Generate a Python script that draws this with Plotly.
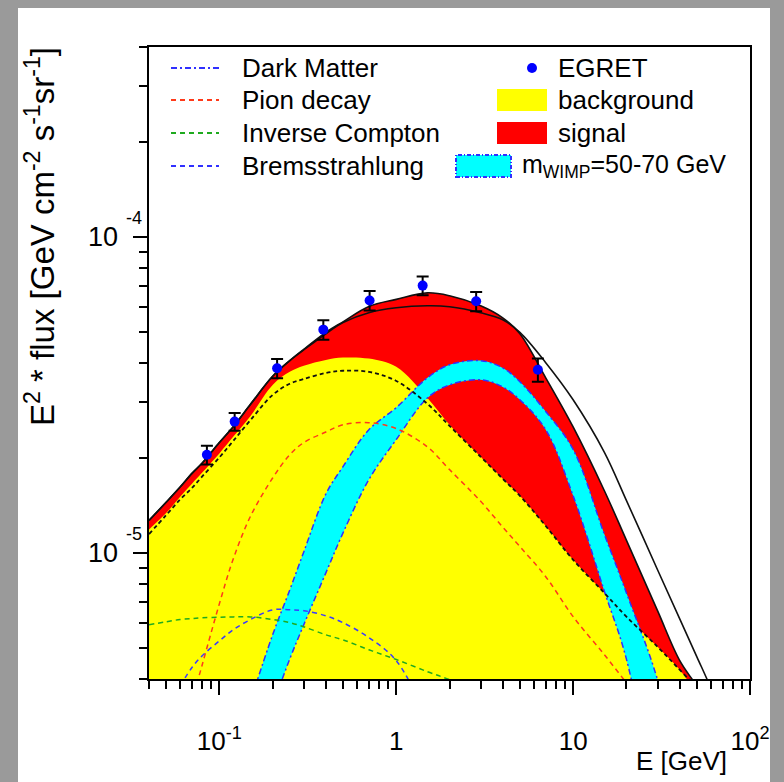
import math
import plotly.graph_objects as go

# ---------------------------------------------------------------- data
# energy grid (GeV) on which the model curves are tabulated
E_GRID = [0.04, 0.05, 0.06, 0.07, 0.08, 0.1, 0.12, 0.15, 0.2, 0.25, 0.3, 0.4, 0.5, 0.7,
          1, 1.5, 2, 3, 4, 5, 7, 10, 15, 20, 30, 40, 50, 60, 70]

# background + signal (upper edge of the red area)
TOTAL_A = [1.27e-5, 1.45e-5, 1.62e-5, 1.79e-5, 1.93e-5, 2.24e-5, 2.52e-5, 2.96e-5, 3.63e-5,
           4.07e-5, 4.42e-5, 5.00e-5, 5.40e-5, 6.04e-5, 6.36e-5, 6.67e-5, 6.53e-5, 6.07e-5,
           5.56e-5, 4.95e-5, 3.59e-5, 2.51e-5, 1.58e-5, 1.10e-5, 6.58e-6, 4.58e-6, 3.8e-6,
           3.2e-6, 2.7e-6]
# background + signal for the heavier WIMP
TOTAL_B = [1.27e-5, 1.45e-5, 1.62e-5, 1.79e-5, 1.93e-5, 2.24e-5, 2.52e-5, 2.96e-5, 3.63e-5,
           4.07e-5, 4.40e-5, 4.95e-5, 5.37e-5, 5.77e-5, 5.98e-5, 6.07e-5, 6.03e-5, 5.77e-5,
           5.48e-5, 5.00e-5, 4.01e-5, 3.06e-5, 2.09e-5, 1.47e-5, 8.87e-6, 6.21e-6, 4.71e-6,
           3.75e-6, 3.0e-6]
# background (upper edge of the yellow area)
BACKGROUND = [1.19e-5, 1.34e-5, 1.51e-5, 1.66e-5, 1.80e-5, 2.07e-5, 2.34e-5, 2.72e-5, 3.41e-5,
              3.75e-5, 3.92e-5, 4.09e-5, 4.16e-5, 4.13e-5, 3.89e-5, 3.10e-5, 2.55e-5, 2.02e-5,
              1.72e-5, 1.52e-5, 1.22e-5, 9.53e-6, 7.49e-6, 6.30e-6, 5.06e-6, 4.28e-6, 3.6e-6,
              3.1e-6, 2.7e-6]
# sum of the conventional components (black dashed)
BG_SUM = [1.15e-5, 1.32e-5, 1.48e-5, 1.61e-5, 1.75e-5, 2.01e-5, 2.27e-5, 2.64e-5, 3.17e-5,
          3.44e-5, 3.56e-5, 3.72e-5, 3.78e-5, 3.75e-5, 3.51e-5, 2.97e-5, 2.53e-5, 2.02e-5,
          1.72e-5, 1.52e-5, 1.22e-5, 9.53e-6, 7.49e-6, 6.30e-6, 5.06e-6, 4.28e-6, 3.75e-6,
          3.3e-6, 2.9e-6]
PION = [None, None, None, 3.4e-6, 4.44e-6, 6.92e-6, 9.62e-6, 1.31e-5, 1.73e-5, 2.05e-5,
        2.24e-5, 2.42e-5, 2.55e-5, 2.59e-5, 2.48e-5, 2.17e-5, 1.84e-5, 1.46e-5, 1.21e-5,
        1.05e-5, 8.43e-6, 6.30e-6, 4.78e-6, 3.89e-6, None, None, None, None, None]
INV_COMPTON = [5.94e-6, 6.07e-6, 6.17e-6, 6.21e-6, 6.25e-6, 6.27e-6, 6.29e-6, 6.29e-6, 6.17e-6,
               6.03e-6, 5.85e-6, 5.52e-6, 5.32e-6, 4.95e-6, 4.61e-6, 4.22e-6, 3.98e-6, 3.6e-6,
               None, None, None, None, None, None, None, None, None, None, None]
BREMS = [None, None, 3.8e-6, 4.35e-6, 4.74e-6, 5.28e-6, 5.73e-6, 6.17e-6, 6.62e-6, 6.62e-6,
         6.58e-6, 6.34e-6, 6.03e-6, 5.41e-6, 4.57e-6, 3.0e-6, None, None, None, None, None,
         None, None, None, None, None, None, None, None]
# dark matter band, m_WIMP = 50-70 GeV (upper and lower edge)
DM_UPPER = [None, None, None, None, None, None, None, 3.4e-6, 5.52e-6, 7.65e-6, 1.01e-5,
            1.54e-5, 1.88e-5, 2.46e-5, 2.89e-5, 3.59e-5, 3.95e-5, 4.07e-5, 3.86e-5, 3.49e-5,
            2.81e-5, 2.13e-5, 1.15e-5, 7.5e-6, 3.98e-6, 2.0e-6, None, None, None]
DM_LOWER = [None, None, None, None, None, None, None, None, 3.3e-6, 4.63e-6, 5.94e-6,
            8.67e-6, 1.16e-5, 1.71e-5, 2.29e-5, 3.10e-5, 3.41e-5, 3.54e-5, 3.36e-5, 3.06e-5,
            2.46e-5, 1.52e-5, 7.6e-6, 4.63e-6, 1.5e-6, None, None, None, None]

# EGRET measurements
EGRET_E = [0.085, 0.122, 0.212, 0.387, 0.707, 1.41, 2.83, 6.32]
EGRET_FLUX = [2.05e-5, 2.61e-5, 3.85e-5, 5.10e-5, 6.31e-5, 7.03e-5, 6.27e-5, 3.81e-5]
EGRET_ERR = [1.4e-6, 1.7e-6, 2.7e-6, 3.6e-6, 4.5e-6, 4.8e-6, 4.4e-6, 3.2e-6]

X_TICKS = [0.1, 1, 10, 100]
X_TICK_TEXT = ["10<sup>-1</sup>", "1", "10", "10<sup>2</sup>"]
Y_TICKS = [1e-5, 1e-4]
Y_TICK_EXP = ["-5", "-4"]
X_RANGE = (0.04, 100)
Y_RANGE = (4e-6, 4e-4)
FLOOR = 1e-7  # well below the visible range, closes the filled areas

# ---------------------------------------------------------------- geometry
W, H = 784, 782
ML, MR, MT, MB = 149, 34, 47, 103
PW, PH = W - ML - MR, H - MT - MB
FONT = "Liberation Sans, Arial, Helvetica, sans-serif"
SMOOTH = 1.0


def px(x):
    return (x - ML) / PW


def py(y):
    return (H - MB - y) / PH


def valid(ys):
    pts = [(x, y) for x, y in zip(E_GRID, ys) if y is not None]
    return [p[0] for p in pts], [p[1] for p in pts]


fig = go.Figure()


def floor_trace(xs):
    fig.add_trace(go.Scatter(x=[xs[0], xs[-1]], y=[FLOOR, FLOOR], mode="lines",
                             line=dict(width=0), hoverinfo="skip"))


def area(ys, color):
    xs, vs = valid(ys)
    floor_trace(xs)
    fig.add_trace(go.Scatter(x=xs, y=vs, mode="lines", fill="tonexty", fillcolor=color,
                             line=dict(width=0, shape="spline", smoothing=SMOOTH),
                             hoverinfo="skip"))


def curve(ys, color, width=1.5, dash="solid"):
    xs, vs = valid(ys)
    fig.add_trace(go.Scatter(x=xs, y=vs, mode="lines",
                             line=dict(color=color, width=width, dash=dash,
                                       shape="spline", smoothing=SMOOTH),
                             hoverinfo="skip"))


# signal (red) under background (yellow)
area(TOTAL_A, "#ff0000")
area(BACKGROUND, "#ffff00")

# dark matter band
ux, uy = valid(DM_UPPER)
lx, ly = valid(DM_LOWER)
fig.add_trace(go.Scatter(x=ux, y=uy, mode="lines",
                         line=dict(width=0, shape="spline", smoothing=SMOOTH),
                         hoverinfo="skip"))
fig.add_trace(go.Scatter(x=lx, y=ly, mode="lines", fill="tonexty", fillcolor="#00ffff",
                         line=dict(width=0, shape="spline", smoothing=SMOOTH),
                         hoverinfo="skip"))
DM_DASH = "6px,3px,2px,3px"
curve(DM_UPPER, "#3030ff", 1.5, DM_DASH)
curve(DM_LOWER, "#3030ff", 1.5, DM_DASH)

# components
SHORT_DASH = "5px,4px"
curve(PION, "#ff3a1a", 1.5, SHORT_DASH)
curve(INV_COMPTON, "#1faa1f", 1.5, SHORT_DASH)
curve(BREMS, "#3a3aff", 1.5, SHORT_DASH)
curve(BG_SUM, "#111111", 1.8, "4px,3px")
curve(TOTAL_B, "#111111", 1.6)
curve(TOTAL_A, "#111111", 1.6)

# EGRET points
fig.add_trace(go.Scatter(x=EGRET_E, y=EGRET_FLUX, mode="markers",
                         marker=dict(color="#0000ff", size=10, line=dict(width=0)),
                         error_y=dict(type="data", array=EGRET_ERR, color="black",
                                      thickness=2, width=6),
                         hoverinfo="skip"))

# ---------------------------------------------------------------- frame
shapes = [dict(type="rect", xref="paper", yref="paper", x0=px(18), x1=px(770),
               y0=py(H + 5), y1=py(8), fillcolor="white", line=dict(width=0),
               layer="below")]
annotations = []

# legend, left column: line samples
LEFT_ROWS = [("Dark Matter", "#3030ff", DM_DASH), ("Pion decay", "#ff3a1a", SHORT_DASH),
             ("Inverse Compton", "#1faa1f", SHORT_DASH),
             ("Bremsstrahlung", "#3030ff", SHORT_DASH)]
ROW_Y = [68, 100, 133, 166]
for (label, color, dash), ry in zip(LEFT_ROWS, ROW_Y):
    shapes.append(dict(type="line", xref="paper", yref="paper", x0=px(171), x1=px(219),
                       y0=py(ry), y1=py(ry), line=dict(color=color, width=2, dash=dash)))
    annotations.append(dict(text=label, xref="paper", yref="paper", x=px(240), y=py(ry),
                            xanchor="left", yanchor="middle", showarrow=False,
                            font=dict(size=26, family=FONT, color="black")))

# legend, right column
shapes.append(dict(type="circle", xref="paper", yref="paper", x0=px(527), x1=px(537),
                   y0=py(ROW_Y[0] + 5), y1=py(ROW_Y[0] - 5), fillcolor="#0000ff",
                   line=dict(width=0)))
shapes.append(dict(type="rect", xref="paper", yref="paper", x0=px(497), x1=px(547),
                   y0=py(ROW_Y[1] + 11), y1=py(ROW_Y[1] - 11), fillcolor="#ffff00",
                   line=dict(width=0)))
shapes.append(dict(type="rect", xref="paper", yref="paper", x0=px(497), x1=px(547),
                   y0=py(ROW_Y[2] + 11), y1=py(ROW_Y[2] - 11), fillcolor="#ff0000",
                   line=dict(width=0)))
shapes.append(dict(type="rect", xref="paper", yref="paper", x0=px(456), x1=px(511),
                   y0=py(ROW_Y[3] + 11), y1=py(ROW_Y[3] - 11), fillcolor="#00ffff",
                   line=dict(color="#3030ff", width=2, dash="4px,2px,1px,2px")))
RIGHT_ROWS = [("EGRET", 556, ROW_Y[0], 26), ("background", 556, ROW_Y[1], 26),
              ("signal", 556, ROW_Y[2], 26), ("m<sub>WIMP</sub>=50-70 GeV", 520, ROW_Y[3], 25)]
for label, x0, ry, fs in RIGHT_ROWS:
    annotations.append(dict(text=label, xref="paper", yref="paper", x=px(x0), y=py(ry),
                            xanchor="left", yanchor="middle", showarrow=False,
                            font=dict(size=fs, family=FONT, color="black")))

# y tick labels: mantissa centred on the tick, exponent raised above it
for val, exp in zip(Y_TICKS, Y_TICK_EXP):
    annotations.append(dict(text="10", xref="paper", yref="y", x=px(120),
                            y=math.log10(val), xanchor="right", yanchor="middle",
                            showarrow=False, font=dict(size=27, family=FONT, color="black")))
    annotations.append(dict(text=exp, xref="paper", yref="y", x=px(124),
                            y=math.log10(val), yshift=19, xanchor="left", yanchor="middle",
                            showarrow=False, font=dict(size=18, family=FONT, color="black")))

# axis titles
annotations.append(dict(text="E [GeV]", xref="paper", yref="paper", x=px(729), y=py(761),
                        xanchor="right", yanchor="middle", showarrow=False,
                        font=dict(size=26, family=FONT, color="black")))
annotations.append(dict(text="E<sup>2</sup> * flux [GeV cm<sup>-2</sup> s<sup>-1</sup>sr<sup>-1</sup>]",
                        xref="paper", yref="paper", x=px(40), y=py(237), textangle=-90,
                        xanchor="center", yanchor="middle", showarrow=False,
                        font=dict(size=33, family=FONT, color="black")))

AXIS = dict(type="log", showline=True, linecolor="black", linewidth=2, mirror=True,
            ticks="outside", tickcolor="black", tickwidth=1.5, ticklen=14,
            showgrid=False, zeroline=False, tickfont=dict(size=26, family=FONT, color="black"))

fig.update_layout(
    width=W, height=H, margin=dict(l=ML, r=MR, t=MT, b=MB, pad=0),
    paper_bgcolor="#9a9a9a", plot_bgcolor="white", showlegend=False,
    font=dict(family=FONT, color="black"),
    xaxis=dict(AXIS, range=[math.log10(X_RANGE[0]), math.log10(X_RANGE[1])],
               tickvals=X_TICKS, ticktext=X_TICK_TEXT, ticklabelstandoff=24,
               minor=dict(ticks="outside", ticklen=8, tickwidth=1.5, tickcolor="black",
                          tickvals=[m * 10 ** d for d in (-2, -1, 0, 1) for m in range(2, 10)],
                          showgrid=False)),
    yaxis=dict(AXIS, range=[math.log10(Y_RANGE[0]), math.log10(Y_RANGE[1])],
               tickvals=Y_TICKS, showticklabels=False,
               minor=dict(ticks="outside", ticklen=8, tickwidth=1.5, tickcolor="black",
                          tickvals=[m * 10 ** d for d in (-6, -5, -4) for m in range(2, 10)],
                          showgrid=False)),
    shapes=shapes, annotations=annotations,
)

fig.write_html("out.html")
